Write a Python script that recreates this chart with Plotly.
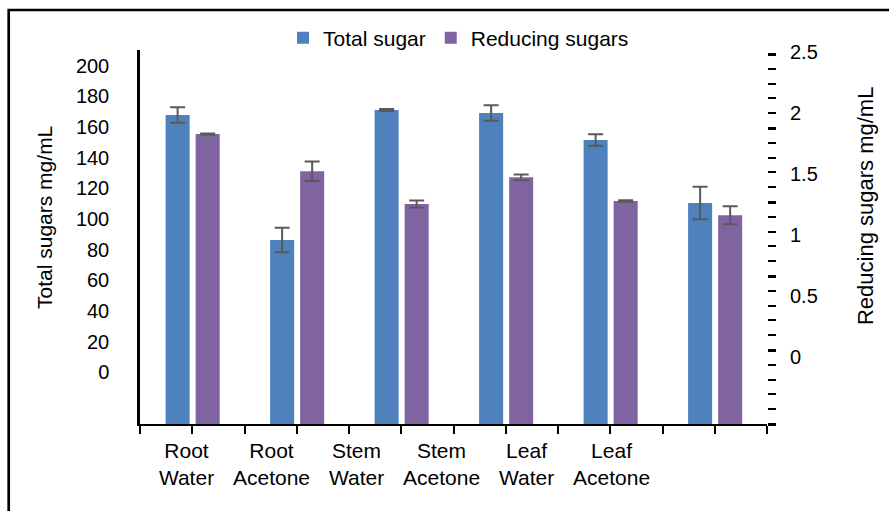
import numpy as np
import plotly.graph_objects as go

# Extract labels shown under the category axis
extracts = ["Root<br>Water", "Root<br>Acetone", "Stem<br>Water",
            "Stem<br>Acetone", "Leaf<br>Water", "Leaf<br>Acetone"]

# Total sugar (left axis, mg/mL) with standard deviations
total_sugar = [167.8, 86.3, 171.1, 169.1, 151.5, 110.4]
total_sugar_sd = [5.1, 8.0, 0.7, 5.0, 3.7, 10.6]

# Reducing sugars (right axis, mg/mL) with standard deviations
reducing_sugars = [1.830, 1.525, 1.257, 1.475, 1.281, 1.164]
reducing_sugars_sd = [0.005, 0.080, 0.029, 0.023, 0.006, 0.074]

# Tick labels of the two value axes
left_ticks = [0, 20, 40, 60, 80, 100, 120, 140, 160, 180, 200]
right_ticks = [0, 0.5, 1, 1.5, 2, 2.5]

# Axis extents (the bars rise from the bottom of each axis)
Y1_RANGE = [-33.7, 210.2]
Y2_RANGE = [-0.547, 2.519]
N_SLOTS = 12

BLUE = "#4F81BD"
PURPLE = "#8064A2"
ERR = "#595959"
FONT = "Liberation Sans, Arial, sans-serif"

n = len(total_sugar)
group_pos = np.arange(n) * 2 + 1
label_pos = 0.89 + 1.627 * np.arange(len(extracts))

ts = np.array(total_sugar)
rs = np.array(reducing_sugars)

fig = go.Figure()
fig.add_bar(
    x=group_pos, y=ts - Y1_RANGE[0], base=Y1_RANGE[0],
    offset=-0.51, width=0.46, name="Total sugar",
    marker=dict(color=BLUE, line=dict(width=0)),
    error_y=dict(type="data", array=total_sugar_sd, color=ERR,
                 thickness=2, width=7.5),
    yaxis="y",
)
fig.add_bar(
    x=group_pos, y=rs - Y2_RANGE[0], base=Y2_RANGE[0],
    offset=0.065, width=0.46, name="Reducing sugars",
    marker=dict(color=PURPLE, line=dict(width=0)),
    error_y=dict(type="data", array=reducing_sugars_sd, color=ERR,
                 thickness=2, width=7.5),
    yaxis="y2",
)
# empty traces so the label axis and the dashed tick axis are created
fig.add_scatter(x=[], y=[], xaxis="x2", yaxis="y", showlegend=False, hoverinfo="skip")
fig.add_scatter(x=[], y=[], xaxis="x", yaxis="y3", showlegend=False, hoverinfo="skip")

fig.update_layout(
    width=889, height=511, autosize=False,
    margin=dict(l=140, r=122, t=50, b=87, pad=0),
    paper_bgcolor="white", plot_bgcolor="white",
    font=dict(family=FONT, color="black", size=20),
    barmode="overlay",
    showlegend=True,
    legend=dict(orientation="h", x=0.508, xanchor="center",
                y=1.032, yanchor="middle", font=dict(size=21),
                bgcolor="rgba(0,0,0,0)", traceorder="normal"),
    xaxis=dict(range=[0, N_SLOTS], tickmode="linear", tick0=0, dtick=1,
               ticks="outside", ticklen=8, tickwidth=2, tickcolor="black",
               showticklabels=False, showline=True, linewidth=2,
               linecolor="black", showgrid=False, zeroline=False),
    xaxis2=dict(overlaying="x", anchor="y", side="bottom",
                range=[0, N_SLOTS], tickmode="array", tickvals=label_pos,
                ticktext=extracts, ticks="", showline=False, showgrid=False,
                zeroline=False, tickfont=dict(size=21), ticklabelstandoff=12),
    yaxis=dict(range=Y1_RANGE, tickmode="array", tickvals=left_ticks,
               ticks="", showline=True, linewidth=2.5, linecolor="black",
               showgrid=False, zeroline=False, ticklabelstandoff=24,
               tickfont=dict(size=20)),
    yaxis2=dict(overlaying="y", anchor="x", side="right", range=Y2_RANGE,
                tickmode="array", tickvals=right_ticks, ticks="",
                showline=False, showgrid=False, zeroline=False,
                ticklabelstandoff=22, tickfont=dict(size=20)),
    yaxis3=dict(overlaying="y", anchor="x", side="right", range=[0, 25.27],
                tickmode="linear", tick0=0, dtick=5, ticks="outside",
                ticklen=8, tickwidth=3, tickcolor="black",
                minor=dict(tickmode="linear", tick0=0, dtick=1, ticks="outside",
                           ticklen=8, tickwidth=2, tickcolor="black"),
                showticklabels=False, showline=False, showgrid=False,
                zeroline=False),
    annotations=[
        dict(text="Total sugars mg/mL", xref="paper", yref="paper",
             x=-0.1515, y=0.551, textangle=-90, showarrow=False,
             font=dict(size=21), xanchor="center", yanchor="middle"),
        dict(text="Reducing sugars mg/mL", xref="paper", yref="paper",
             x=1.158, y=0.583, textangle=-90, showarrow=False,
             font=dict(size=22), xanchor="center", yanchor="middle"),
    ],
    shapes=[
        dict(type="rect", xref="paper", yref="paper",
             x0=-0.2094, y0=-1, x1=2, y1=1.107,
             line=dict(color="black", width=2.7), fillcolor="rgba(0,0,0,0)",
             layer="below"),
    ],
)

fig.write_html("out.html", config={"displayModeBar": False})
